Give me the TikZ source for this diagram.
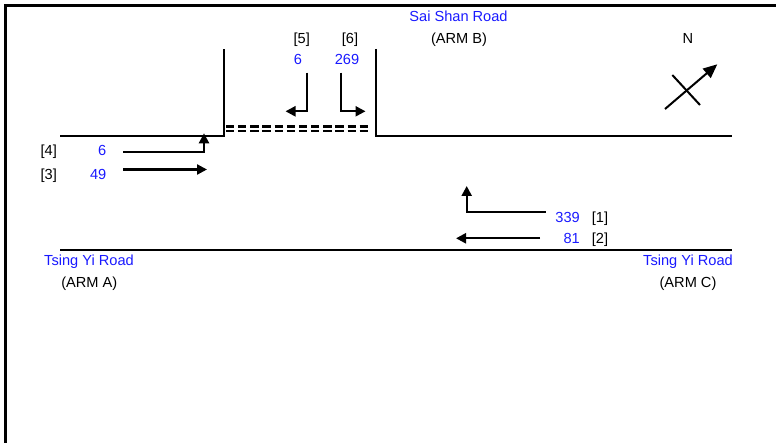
\documentclass[tikz,border=0pt]{standalone}
\usepackage{fontspec}
\setmainfont{Liberation Sans}
\usetikzlibrary{arrows.meta,positioning}
\definecolor{flowblue}{RGB}{25,25,255}

\begin{document}
\begin{tikzpicture}[x=1pt,y=-1pt,
    every node/.style={font=\fontsize{14.6}{17}\selectfont,inner sep=0pt,anchor=base},
    road/.style={line width=1.5pt},
    kerb/.style={line width=2.8pt,dash pattern=on 8.3pt off 3.85pt},
    flow/.style={line width=2.3pt,-{Triangle[length=10pt,width=10pt]}},
    num/.style={text=flowblue},
    rnum/.style={text=flowblue,anchor=base east}]
    \useasboundingbox (0,0) rectangle (776,443);
    \draw[line width=3.2pt] (5.8,443) -- (5.8,5.5) -- (776,5.5);

    % road edges
    \draw[road] (60,136) -- (224,136) -- (224,49);
    \draw[road] (376,49) -- (376,136) -- (732,136);
    \draw[road] (60,250) -- (732,250);
    \draw[kerb] (226,126.5) -- (368,126.5);
    \draw[kerb] (226,131) -- (368,131);

    % arm names
    \node[num] (saishan) at (458.5,21.5) {Sai Shan Road};
    \node (armB) at (459,43.5) {(ARM B)};
    \node[num] (tsingA) at (89,266) {Tsing Yi Road};
    \node (armA) at (89.3,287.5) {(ARM A)};
    \node[num] (tsingC) at (688,266) {Tsing Yi Road};
    \node (armC) at (688,287.5) {(ARM C)};

    % movements
    \node (m4) at (48.7,155.7) {[4]};
    \node[rnum] (v4) at (106.5,155.7) {6};
    \node (m3) at (48.7,179.3) {[3]};
    \node[rnum] (v3) at (106.5,179.3) {49};
    \node (m5) at (301.7,43.5) {[5]};
    \node[num] (v5) at (298,65) {6};
    \node (m6) at (350,43.5) {[6]};
    \node[num] (v6) at (347,65) {269};
    \node[rnum] (v1) at (580,222.7) {339};
    \node (m1) at (600,222.7) {[1]};
    \node[rnum] (v2) at (580,243.3) {81};
    \node (m2) at (600,243.3) {[2]};

    \coordinate (f4a) at (123,151.7);
    \coordinate (f4b) at (204,133.3);
    \coordinate (f3a) at (123,169.5);
    \coordinate (f3b) at (207,169.5);
    \coordinate (f5a) at (306.7,72.7);
    \coordinate (f5b) at (285.5,111.3);
    \coordinate (f6a) at (341,72.7);
    \coordinate (f6b) at (365.5,111.3);
    \coordinate (f1a) at (545.7,212.3);
    \coordinate (f1b) at (466.7,186);
    \coordinate (f2a) at (540,238.3);
    \coordinate (f2b) at (456,238.3);
    \draw[flow] (f4a) -| (f4b);
    \draw[flow] (f3a) -- (f3b);
    \draw[flow] (f5a) |- (f5b);
    \draw[flow] (f6a) |- (f6b);
    \draw[flow] (f1a) -| (f1b);
    \draw[flow] (f2a) -- (f2b);

    % north point
    \node (north) at (688,43.3) {N};
    \coordinate (nA) at (665,109);
    \coordinate (nB) at (717.3,64.3);
    \coordinate (nC) at (672.3,75);
    \coordinate (nD) at (700,105);
    \draw[line width=2pt,-{Triangle[length=14pt,width=12pt]}] (nA) -- (nB);
    \draw[line width=2pt] (nC) -- (nD);
\end{tikzpicture}
\end{document}
